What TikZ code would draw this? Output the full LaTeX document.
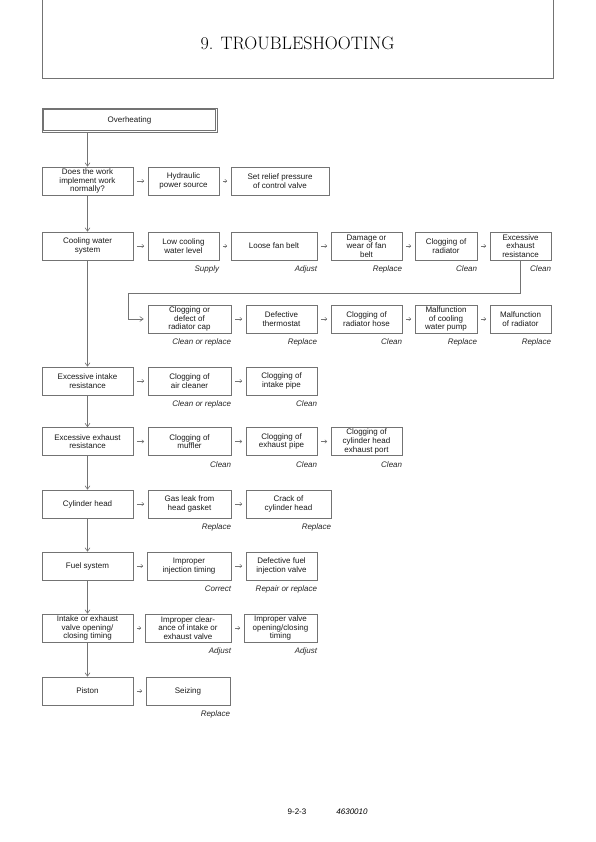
\documentclass[tikz,border=0pt]{standalone}
\usepackage{fontspec}
\setmainfont{Liberation Sans}
\newfontfamily\titlefont{Latin Modern Roman}
\usetikzlibrary{arrows.meta}

\tikzset{
  box/.style  = {draw = black!55, line width = 0.6pt, align = center,
                 minimum height = 28pt, inner sep = 1pt,
                 font = \fontsize{8}{8.6}\selectfont, text = black!90},
  fix/.style  = {anchor = north east, inner sep = 0pt, yshift = -5.5pt,
                 font = \fontsize{8}{9}\selectfont\itshape, text = black!85},
  down/.style = {draw = black!55, line width = 0.6pt,
                 -{Straight Barb[length = 3.5pt, width = 5pt]}},
  next/.style = {draw = black!55, line width = 0.5pt, shorten > = 3.5pt,
                 shorten < = 3.5pt, -{Straight Barb[length = 2pt, width = 3.5pt]}}
}

\begin{document}
\begin{tikzpicture}[x = 1pt, y = -1pt]
      \useasboundingbox (0,0) rectangle (595,842);
      % page header
      \coordinate (hl) at (42,0);
      \coordinate (hr) at (553,0);
      \draw[black!55, line width = 0.6pt] (hl) -- (42,78) -- (553,78) -- (hr);
      \node[font = \titlefont\fontsize{18}{20}\selectfont] (title) at (297.5,43) {9. TROUBLESHOOTING};
      % start
      \node[box, minimum width = 175pt, minimum height = 24pt] (ovh) at (129.5,120) {Overheating};
      \draw[black!55, line width = 0.6pt] ([xshift = 2pt, yshift = -2pt]ovh.north west) rectangle ([xshift = -2pt, yshift = 2pt]ovh.south east);
      % row 1
      \node[box, minimum width = 91pt] (q1) at (87.5,181) {Does the work\\implement work\\normally?};
      \node[box, minimum width = 71pt] (hyd) at (183.5,181) {Hydraulic\\power source};
      \node[box, minimum width = 98pt] (relief) at (280,181) {Set relief pressure\\of control valve};
      % row 2
      \node[box, minimum width = 91pt] (cool) at (87.5,246) {Cooling water\\system};
      \node[box, minimum width = 71pt] (low) at (183.5,246) {Low cooling\\water level};
      \node[box, minimum width = 86pt] (belt) at (274,246) {Loose fan belt};
      \node[box, minimum width = 71pt] (wear) at (366.5,246) {Damage or\\wear of fan\\belt};
      \node[box, minimum width = 62pt] (radclog) at (446,246) {Clogging of\\radiator};
      \node[box, minimum width = 61pt] (exhr) at (520.5,246) {Excessive\\exhaust\\resistance};
      \node[fix] (low-fix) at (low.south east) {Supply};
      \node[fix] (belt-fix) at (belt.south east) {Adjust};
      \node[fix] (wear-fix) at (wear.south east) {Replace};
      \node[fix] (radclog-fix) at (radclog.south east) {Clean};
      \node[fix] (exhr-fix) at (exhr.south east) {Clean};
      % row 3
      \node[box, minimum width = 83pt] (cap) at (189.5,319) {Clogging or\\defect of\\radiator cap};
      \node[box, minimum width = 71pt] (thermo) at (281.5,319) {Defective\\thermostat};
      \node[box, minimum width = 71pt] (hose) at (366.5,319) {Clogging of\\radiator hose};
      \node[box, minimum width = 62pt] (pump) at (446,319) {Malfunction\\of cooling\\water pump};
      \node[box, minimum width = 61pt] (radmal) at (520.5,319) {Malfunction\\of radiator};
      \node[fix] (cap-fix) at (cap.south east) {Clean or replace};
      \node[fix] (thermo-fix) at (thermo.south east) {Replace};
      \node[fix] (hose-fix) at (hose.south east) {Clean};
      \node[fix] (pump-fix) at (pump.south east) {Replace};
      \node[fix] (radmal-fix) at (radmal.south east) {Replace};
      % row 4
      \node[box, minimum width = 91pt] (intake) at (87.5,381) {Excessive intake\\resistance};
      \node[box, minimum width = 83pt] (aircl) at (189.5,381) {Clogging of\\air cleaner};
      \node[box, minimum width = 71pt] (intpipe) at (281.5,381) {Clogging of\\intake pipe};
      \node[fix] (aircl-fix) at (aircl.south east) {Clean or replace};
      \node[fix] (intpipe-fix) at (intpipe.south east) {Clean};
      % row 5
      \node[box, minimum width = 91pt] (exh) at (87.5,441.5) {Excessive exhaust\\resistance};
      \node[box, minimum width = 83pt] (muffler) at (189.5,441.5) {Clogging of\\muffler};
      \node[box, minimum width = 71pt] (expipe) at (281.5,441.5) {Clogging of\\exhaust pipe};
      \node[box, minimum width = 71pt] (port) at (366.5,441.5) {Clogging of\\cylinder head\\exhaust port};
      \node[fix] (muffler-fix) at (muffler.south east) {Clean};
      \node[fix] (expipe-fix) at (expipe.south east) {Clean};
      \node[fix] (port-fix) at (port.south east) {Clean};
      % row 6
      \node[box, minimum width = 91pt] (head) at (87.5,504) {Cylinder head};
      \node[box, minimum width = 83pt] (gasket) at (189.5,504) {Gas leak from\\head gasket};
      \node[box, minimum width = 85pt] (crack) at (288.5,504) {Crack of\\cylinder head};
      \node[fix] (gasket-fix) at (gasket.south east) {Replace};
      \node[fix] (crack-fix) at (crack.south east) {Replace};
      % row 7
      \node[box, minimum width = 91pt] (fuel) at (87.5,566) {Fuel system};
      \node[box, minimum width = 84pt] (injt) at (189,566) {Improper\\injection timing};
      \node[box, minimum width = 71pt] (injv) at (281.5,566) {Defective fuel\\injection valve};
      \node[fix] (injt-fix) at (injt.south east) {Correct};
      \node[fix] (injv-fix) at (injv.south east) {Repair or replace};
      % row 8
      \node[box, minimum width = 91pt] (valve) at (87.5,628) {Intake or exhaust\\valve opening/\\closing timing};
      \node[box, minimum width = 86pt] (clear) at (188,628) {Improper clear-\\ance of intake or\\exhaust valve};
      \node[box, minimum width = 73pt] (vtime) at (280.5,628) {Improper valve\\opening/closing\\timing};
      \node[fix] (clear-fix) at (clear.south east) {Adjust};
      \node[fix] (vtime-fix) at (vtime.south east) {Adjust};
      % row 9
      \node[box, minimum width = 91pt] (piston) at (87.5,691) {Piston};
      \node[box, minimum width = 84pt] (seize) at (188,691) {Seizing};
      \node[fix] (seize-fix) at (seize.south east) {Replace};
      % footer
      \node[font = \fontsize{8}{9}\selectfont] (pg) at (297,812) {9-2-3};
      \node[font = \fontsize{8}{9}\selectfont\itshape] (code) at (352,812) {4630010};
      % main column
      \draw[down] (q1.north |- ovh.south) -- (q1.north);
      \draw[down] (q1) -- (cool);
      \draw[down] (cool) -- (intake);
      \draw[down] (intake) -- (exh);
      \draw[down] (exh) -- (head);
      \draw[down] (head) -- (fuel);
      \draw[down] (fuel) -- (valve);
      \draw[down] (valve) -- (piston);
      % rows
      \draw[next] (q1) -- (hyd);
      \draw[next] (hyd) -- (relief);
      \draw[next] (cool) -- (low);
      \draw[next] (low) -- (belt);
      \draw[next] (belt) -- (wear);
      \draw[next] (wear) -- (radclog);
      \draw[next] (radclog) -- (exhr);
      \coordinate (turn) at (128,293);
      \draw[down, shorten > = 4pt] (exhr.south) |- (turn) |- (cap.west);
      \draw[next] (cap) -- (thermo);
      \draw[next] (thermo) -- (hose);
      \draw[next] (hose) -- (pump);
      \draw[next] (pump) -- (radmal);
      \draw[next] (intake) -- (aircl);
      \draw[next] (aircl) -- (intpipe);
      \draw[next] (exh) -- (muffler);
      \draw[next] (muffler) -- (expipe);
      \draw[next] (expipe) -- (port);
      \draw[next] (head) -- (gasket);
      \draw[next] (gasket) -- (crack);
      \draw[next] (fuel) -- (injt);
      \draw[next] (injt) -- (injv);
      \draw[next] (valve) -- (clear);
      \draw[next] (clear) -- (vtime);
      \draw[next] (piston) -- (seize);
    \end{tikzpicture}
\end{document}
